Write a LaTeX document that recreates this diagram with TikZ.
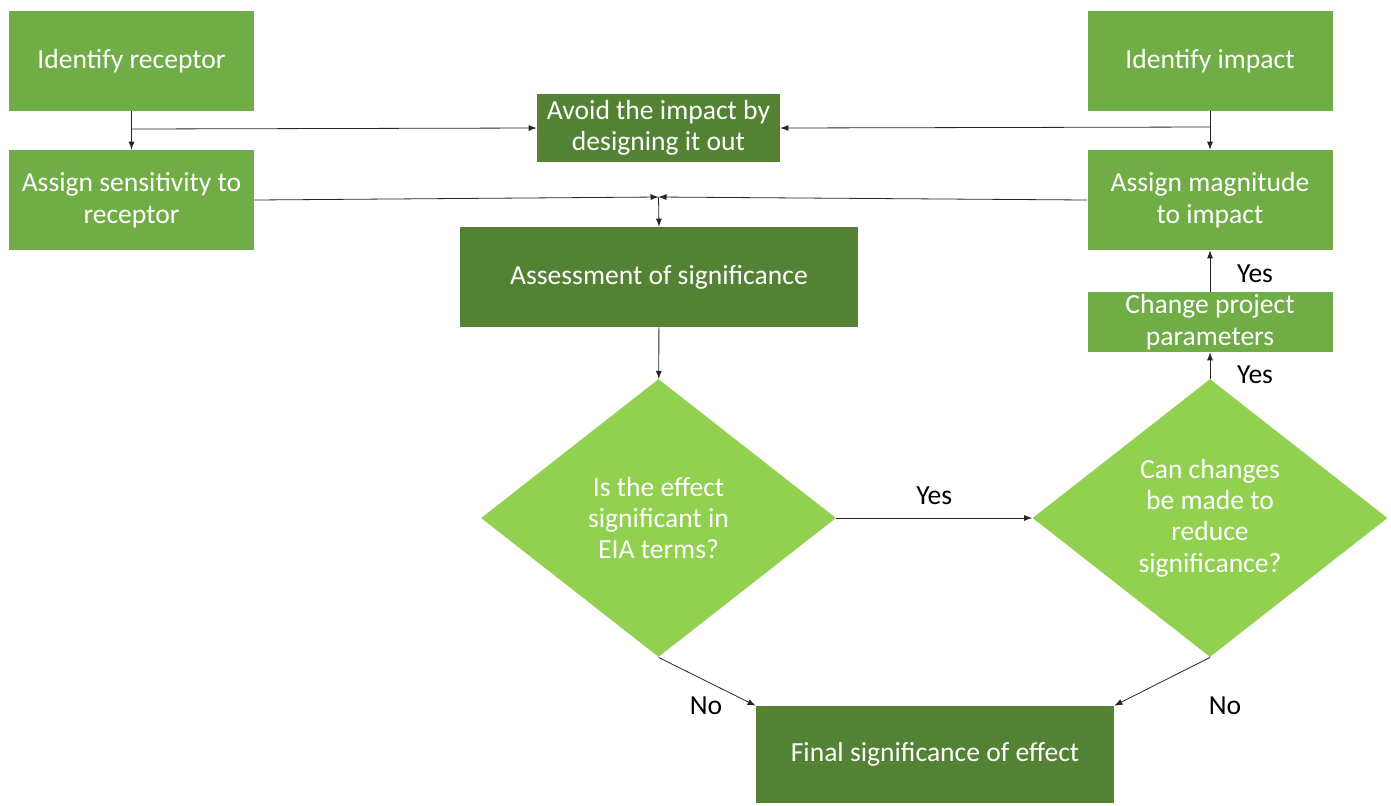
\documentclass[tikz,border=0pt]{standalone}
\usepackage{fontspec}
\setmainfont{Carlito}
\usepackage{tikz}
\usetikzlibrary{shapes,arrows,positioning,calc,shapes.geometric}

\definecolor{lightgr}{HTML}{70AD47}
\definecolor{darkgr}{HTML}{548235}
\definecolor{limegr}{HTML}{92D050}

\tikzset{
  box/.style={fill=lightgr,text=white,align=center,inner sep=0pt,
    minimum width=122.5pt,minimum height=50pt},
  dbox/.style={fill=darkgr,text=white,align=center,inner sep=0pt},
  decide/.style={diamond,fill=limegr,text=white,align=center,inner sep=0pt,
    minimum width=177.5pt,minimum height=139pt},
  arr/.style={-latex,thin,black!85},
  lbl/.style={text=black}
}

\begin{document}
\begin{tikzpicture}[x=0.5pt,y=-0.5pt,font=\fontsize{13.8}{15.7}\selectfont]
      \useasboundingbox (0,0) rectangle (1391,805);

      \node[box](receptor) at (131.5,61){Identify receptor};
      \node[box](sens) at (131.5,200){Assign sensitivity to\\receptor};
      \node[box](impact) at (1210,61){Identify impact};
      \node[box](magnitude) at (1210,200){Assign magnitude\\to impact};
      \node[dbox,minimum width=121.5pt,minimum height=34pt](avoid) at (658.5,128){Avoid the impact by\\designing it out};
      \node[dbox,minimum width=199pt,minimum height=50pt](assess) at (659,277){Assessment of significance};
      \node[box,minimum height=30pt](change) at (1210,322){Change project\\parameters};
      \node[decide](sig) at (658.5,518){Is the effect\\significant in\\EIA terms?};
      \node[decide](reduce) at (1210,518){Can changes\\be made to\\reduce\\significance?};
      \node[dbox,minimum width=179pt,minimum height=48.5pt](final) at (935,754.5){Final significance of effect};

      \coordinate(rj) at (131.5,129);
      \coordinate(ij) at (1210,127);
      \coordinate(sj) at (658.5,197);

      \draw[arr] (receptor) -- (sens);
      \draw[arr] (rj) -- (avoid.west);
      \draw[arr] (impact) -- (magnitude);
      \draw[arr] (ij) -- (avoid.east);
      \draw[arr] (sens.east) -- (sj);
      \draw[arr] (magnitude.west) -- (sj);
      \draw[arr] (sj) -- (assess.north);
      \draw[arr] (assess) -- (sig);
      \draw[arr] (sig.east) -- node[lbl,above=3pt]{Yes} (reduce.west);
      \draw[arr] (reduce.north) -- (change.south);
      \draw[arr] (change.north) -- (magnitude.south);
      \draw[arr] (sig.south) -- (final.north west);
      \draw[arr] (reduce.south) -- (final.north east);

      \node[lbl](yes1) at (1255,375){Yes};
      \node[lbl](yes2) at (1255,274){Yes};
      \node[lbl](no1) at (706,706){No};
      \node[lbl](no2) at (1225,706){No};
\end{tikzpicture}
\end{document}
